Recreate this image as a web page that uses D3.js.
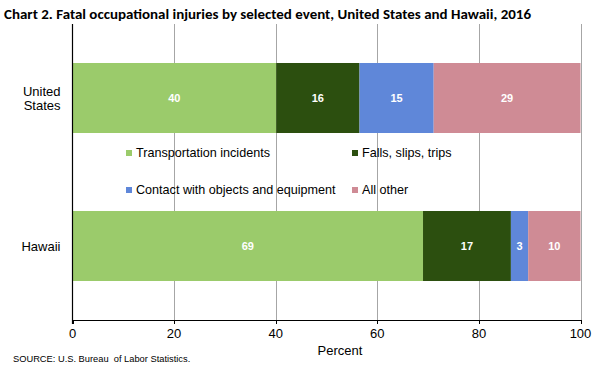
<!DOCTYPE html>
<html><head><meta charset="utf-8">
<script src="https://cdn.jsdelivr.net/npm/d3@7"></script>
<style>body{margin:0;background:#fff}svg{display:block}</style>
</head><body>
<svg id="c" width="600" height="369"></svg>
<script>
const categories = ["United States", "Hawaii"];
const seriesNames = ["Transportation incidents", "Falls, slips, trips", "Contact with objects and equipment", "All other"];
const transportation = [40.1, 69.0];
const falls = [16.4, 17.3];
const contact = [14.6, 3.4];
const allOther = [28.9, 10.3];
const xTicks = [0, 20, 40, 60, 80, 100];
const colors = ["#9bcb6b", "#2c4f0f", "#5f87d9", "#cf8b95"];

const svg = d3.select("#c");
const font = "Arial, 'Liberation Sans', sans-serif";

const x = d3.scaleLinear().domain([0, 100]).range([72.5, 580.5]);
const y = d3.scaleBand().domain(categories).range([24, 320]).paddingInner(0.527).paddingOuter(0.2635);

// title
svg.append("text").attr("x", 4).attr("y", 19)
  .attr("font-family", "Carlito, 'Liberation Sans', Arial, sans-serif")
  .attr("font-weight", "bold").attr("font-size", 13.5).attr("fill", "#000")
  .attr("textLength", 527).attr("lengthAdjust", "spacingAndGlyphs")
  .text("Chart 2.  Fatal occupational injuries by selected event, United States and Hawaii, 2016");

// gridlines
svg.append("g").selectAll("line").data(xTicks.filter(d => d > 0)).join("line")
  .attr("x1", d => Math.round(x(d)) + 0.5).attr("x2", d => Math.round(x(d)) + 0.5)
  .attr("y1", 24).attr("y2", 320)
  .attr("stroke", "#a6a6a6").attr("stroke-width", 1);

// stacked data
const series = [transportation, falls, contact, allOther];
const rows = categories.map((c, i) => {
  const o = { cat: c };
  seriesNames.forEach((s, j) => o[s] = series[j][i]);
  return o;
});
const stack = d3.stack().keys(seriesNames)(rows);

const g = svg.append("g");
stack.forEach((layer, j) => {
  g.selectAll(null).data(layer).join("rect")
    .attr("x", d => x(d[0])).attr("width", d => x(d[1]) - x(d[0]))
    .attr("y", d => y(d.data.cat)).attr("height", y.bandwidth())
    .attr("fill", colors[j]);
  g.selectAll(null).data(layer).join("text")
    .attr("x", d => (x(d[0]) + x(d[1])) / 2)
    .attr("y", d => y(d.data.cat) + y.bandwidth() / 2 + 4)
    .attr("text-anchor", "middle").attr("font-family", font)
    .attr("font-weight", "bold").attr("font-size", 11).attr("fill", "#fff")
    .text(d => d3.format(".0f")(d[1] - d[0]));
});

// axes lines
svg.append("line").attr("x1", 72.5).attr("x2", 72.5).attr("y1", 24).attr("y2", 324)
  .attr("stroke", "#000").attr("stroke-width", 1.2);
svg.append("line").attr("x1", 72).attr("x2", 581).attr("y1", 320.5).attr("y2", 320.5)
  .attr("stroke", "#000").attr("stroke-width", 1.2);

// x ticks
svg.append("g").selectAll("line").data(xTicks).join("line")
  .attr("x1", d => Math.round(x(d)) + 0.5).attr("x2", d => Math.round(x(d)) + 0.5)
  .attr("y1", 320).attr("y2", 324).attr("stroke", "#000");
svg.append("g").selectAll("text").data(xTicks).join("text")
  .attr("x", d => x(d)).attr("y", 338).attr("text-anchor", "middle")
  .attr("font-family", font).attr("font-size", 13).attr("fill", "#000")
  .text(d => d);

svg.append("text").attr("x", 340).attr("y", 355).attr("text-anchor", "middle")
  .attr("font-family", font).attr("font-size", 13).attr("fill", "#000").text("Percent");

// category labels
categories.forEach(c => {
  const words = c === "United States" ? ["United", "States"] : [c];
  const cy = y(c) + y.bandwidth() / 2;
  const lh = 14;
  const t = svg.append("text").attr("text-anchor", "end")
    .attr("font-family", font).attr("font-size", 13).attr("fill", "#000");
  words.forEach((w, i) => {
    t.append("tspan").attr("x", 60.5)
      .attr("y", cy + 4.5 + (i - (words.length - 1) / 2) * lh).text(w);
  });
});

// legend
const legPos = [[126, 152], [352, 152], [126, 189], [352, 189]];
seriesNames.forEach((s, j) => {
  const [lx, ly] = legPos[j];
  svg.append("rect").attr("x", lx).attr("y", ly - 2).attr("width", 6).attr("height", 6).attr("fill", colors[j]);
  svg.append("text").attr("x", lx + 10).attr("y", ly + 5)
    .attr("font-family", font).attr("font-size", 12.6).attr("fill", "#000").text(s);
});

// source
svg.append("text").attr("x", 13).attr("y", 362)
  .attr("font-family", font).attr("font-size", 9.3).attr("fill", "#000")
  .attr("xml:space", "preserve")
  .text("SOURCE: U.S. Bureau  of Labor Statistics.");
</script>
</body></html>
